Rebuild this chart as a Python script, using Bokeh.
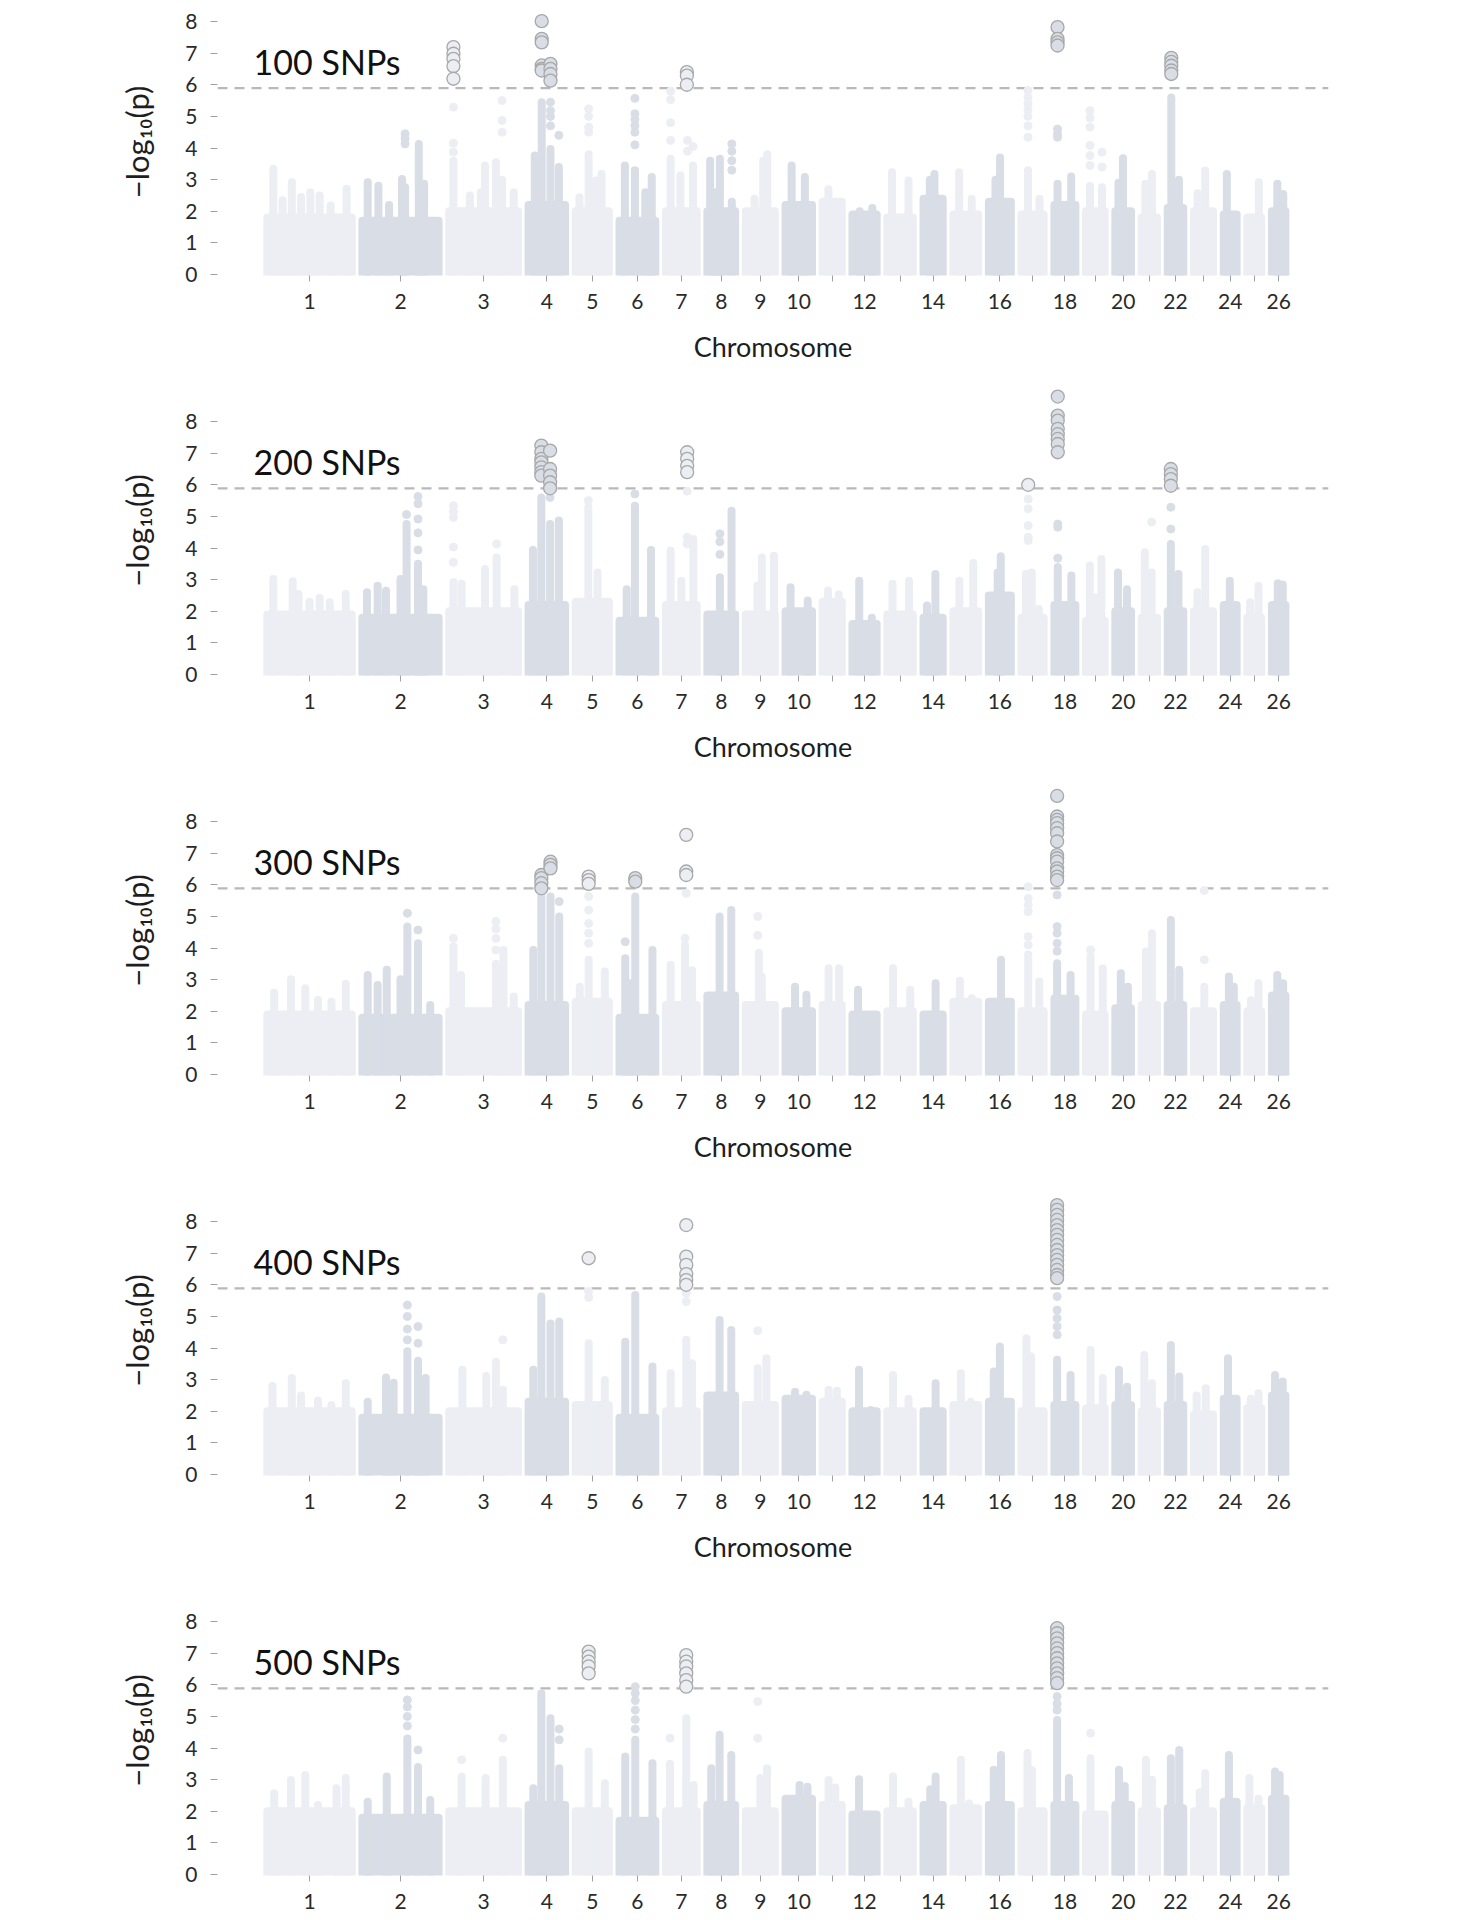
import numpy as np
from bokeh.plotting import figure
from bokeh.layouts import column
from bokeh.models import Range1d, FixedTicker, Span, Label, ColumnDataSource
from bokeh.embed import file_html
from bokeh.resources import INLINE

# sheep autosome lengths (Mb), chromosomes 1..26
chrom_len = [275.4, 249.0, 224.0, 119.2, 107.9, 117.0, 100.1, 90.7, 94.7, 86.4,
             62.2, 79.1, 83.1, 62.7, 80.9, 71.7, 72.3, 68.6, 60.5, 51.2,
             50.0, 50.8, 62.3, 42.0, 45.4, 44.1]
chrom_gap = 35.0
threshold = 5.89

tick_labels = [str(c) if (c <= 10 or c % 2 == 0) else "" for c in range(1, 27)]
panel_titles = ["100 SNPs", "200 SNPs", "300 SNPs", "400 SNPs", "500 SNPs"]

# top of the dense cloud of SNPs for each chromosome
base_100 = [1.8, 1.7, 2.0, 2.2, 2.0, 1.7, 2.0, 2.0, 2.0, 2.2, 2.3, 1.9, 1.8, 2.4, 1.9, 2.3,
            1.9, 2.2, 2.0, 2.0, 1.8, 2.1, 2.0, 1.9, 1.8, 2.0]
base_200 = [1.9, 1.8, 2.0, 2.2, 2.3, 1.7, 2.2, 1.9, 1.9, 2.0, 2.3, 1.6, 1.9, 1.8, 2.0, 2.5,
            1.8, 2.2, 1.7, 2.0, 1.8, 2.0, 2.0, 2.2, 1.8, 2.2]
base_300 = [1.9, 1.8, 2.0, 2.2, 2.3, 1.8, 2.2, 2.5, 2.2, 2.0, 2.2, 1.9, 2.0, 1.9, 2.3, 2.3,
            2.0, 2.4, 1.9, 2.1, 2.2, 2.2, 2.0, 2.2, 2.0, 2.5]
base_400 = [2.0, 1.8, 2.0, 2.3, 2.2, 1.8, 2.0, 2.5, 2.2, 2.4, 2.3, 2.0, 2.0, 2.0, 2.2, 2.3,
            2.0, 2.2, 2.1, 2.2, 2.0, 2.2, 1.9, 2.4, 2.1, 2.5]
base_500 = [2.0, 1.8, 2.0, 2.2, 2.0, 1.7, 2.0, 2.2, 2.0, 2.4, 2.2, 1.9, 2.0, 2.2, 2.1, 2.2,
            2.0, 2.2, 1.9, 2.2, 2.0, 2.1, 2.0, 2.3, 2.1, 2.4]

# (chromosome, relative position, -log10 p)  -- continuous columns of SNPs
spikes_100 = [(1, .07, 3.34), (1, .18, 2.35), (1, .29, 2.92), (1, .4, 2.45), (1, .51, 2.6), (1, .62, 2.5),
              (1, .75, 2.18), (1, .94, 2.71), (2, .07, 2.92), (2, .21, 2.81), (2, .35, 2.2), (2, .52, 3.02),
              (2, .56, 2.76), (2, .74, 4.13), (2, .81, 2.87), (3, .06, 3.6), (3, .3, 2.5), (3, .46, 2.6),
              (3, .52, 3.45), (3, .68, 3.55), (3, .77, 3.0), (3, .94, 2.6), (4, .17, 3.76), (4, .36, 5.45),
              (4, .6, 3.97), (4, .83, 3.4), (5, .11, 2.44), (5, .39, 3.8), (5, .61, 2.97), (5, .78, 3.18),
              (6, .15, 3.45), (6, .43, 3.3), (6, .72, 2.6), (6, .9, 3.08), (7, .15, 3.66), (7, .47, 3.13),
              (7, .88, 3.45), (8, .1, 3.6), (8, .3, 2.6), (8, .45, 3.66), (8, .88, 2.3), (9, .3, 2.4),
              (9, .6, 3.6), (9, .74, 3.8), (10, .23, 3.45), (10, .73, 3.08), (11, .3, 2.7), (12, .3, 2.0),
              (12, .82, 2.1), (13, .18, 3.23), (13, .83, 2.97), (14, .33, 3.0), (14, .57, 3.18),
              (15, .23, 3.23), (15, .74, 2.4), (16, .3, 3.0), (16, .51, 3.7), (17, .29, 3.3), (17, .81, 2.4),
              (18, .15, 2.87), (18, .8, 3.1), (19, .21, 2.8), (19, .86, 2.76), (20, .2, 2.9), (20, .49, 3.68),
              (21, .24, 2.87), (21, .67, 3.18), (22, .23, 5.6), (22, .72, 3.0), (23, .19, 2.57),
              (23, .59, 3.29), (24, .24, 3.18), (25, .83, 2.92), (26, .4, 2.87), (26, .84, 2.55)]
spikes_200 = [(1, .07, 3.02), (1, .3, 2.95), (1, .37, 2.55), (1, .5, 2.3), (1, .62, 2.42), (1, .74, 2.29),
              (1, .93, 2.55), (2, .06, 2.6), (2, .2, 2.81), (2, .31, 2.65), (2, .5, 3.02), (2, .58, 4.76),
              (2, .73, 3.5), (2, .8, 2.7), (3, .06, 2.92), (3, .18, 2.87), (3, .52, 3.34), (3, .69, 3.7),
              (3, .95, 2.7), (4, .12, 3.94), (4, .35, 5.6), (4, .59, 4.76), (4, .83, 4.87), (5, .38, 5.3),
              (5, .66, 3.23), (6, .2, 2.7), (6, .43, 5.34), (6, .88, 3.94), (7, .15, 3.92), (7, .5, 2.97),
              (7, .89, 4.29), (8, .45, 3.08), (8, .87, 5.18), (9, .4, 2.81), (9, .55, 3.7), (9, .97, 3.76),
              (10, .19, 2.76), (10, .84, 2.34), (11, .28, 2.66), (11, .84, 2.53), (12, .28, 2.97),
              (12, .8, 1.8), (13, .2, 2.87), (13, .85, 2.97), (14, .18, 2.18), (14, .62, 3.18),
              (15, .24, 2.97), (15, .8, 3.53), (16, .4, 3.23), (16, .54, 3.74), (17, .2, 3.18),
              (17, .46, 3.23), (17, .78, 2.07), (18, .16, 3.4), (18, .81, 3.13), (19, .2, 3.45),
              (19, .48, 2.44), (19, .82, 3.66), (20, .17, 3.23), (20, .74, 2.7), (21, .2, 3.87),
              (21, .65, 3.23), (22, .2, 4.13), (22, .69, 3.18), (23, .18, 2.6), (23, .59, 3.97),
              (24, .47, 2.97), (25, .2, 2.29), (25, .8, 2.81), (26, .43, 2.89), (26, .8, 2.85)]
spikes_300 = [(1, .08, 2.59), (1, .28, 3.01), (1, .45, 2.73), (1, .6, 2.36), (1, .76, 2.3), (1, .93, 2.87),
              (2, .07, 3.15), (2, .2, 2.83), (2, .32, 3.31), (2, .5, 3.01), (2, .59, 4.68), (2, .73, 4.15),
              (2, .89, 2.2), (3, .06, 4.05), (3, .17, 3.15), (3, .68, 3.5), (3, .79, 3.94), (3, .94, 2.47),
              (4, .13, 3.94), (4, .35, 5.68), (4, .6, 5.63), (4, .84, 5.0), (5, .12, 2.78), (5, .39, 3.63),
              (5, .88, 3.26), (6, .16, 3.68), (6, .28, 2.89), (6, .44, 5.63), (6, .92, 3.94), (7, .15, 3.47),
              (7, .62, 4.1), (7, .85, 3.3), (8, .44, 5.0), (8, .86, 5.2), (9, .45, 3.84), (9, .55, 3.1),
              (10, .36, 2.78), (10, .79, 2.52), (11, .31, 3.36), (11, .86, 3.36), (12, .23, 2.68),
              (12, .7, 1.83), (13, .22, 3.36), (13, .9, 2.68), (14, .63, 2.89), (15, .26, 2.97),
              (15, .74, 2.41), (16, .55, 3.63), (17, .3, 3.8), (17, .8, 2.94), (18, .13, 3.52),
              (18, .77, 3.15), (19, .24, 3.73), (19, .9, 3.36), (20, .35, 3.2), (20, .8, 2.78),
              (21, .27, 3.89), (21, .67, 4.47), (22, .2, 4.89), (22, .74, 3.31), (23, .54, 2.78),
              (24, .4, 3.1), (24, .78, 2.78), (25, .26, 2.35), (25, .8, 2.89), (26, .4, 3.15), (26, .83, 2.89)]
spikes_400 = [(1, .06, 2.8), (1, .29, 3.05), (1, .4, 2.5), (1, .6, 2.34), (1, .76, 2.2), (1, .93, 2.89),
              (2, .07, 2.3), (2, .31, 3.07), (2, .41, 2.9), (2, .59, 3.9), (2, .73, 3.6), (2, .83, 3.05),
              (3, .19, 3.31), (3, .54, 3.12), (3, .68, 3.57), (3, .78, 2.68), (4, .13, 3.31), (4, .35, 5.63),
              (4, .6, 4.78), (4, .84, 4.84), (5, .39, 4.15), (5, .88, 2.99), (6, .16, 4.2), (6, .44, 5.68),
              (6, .92, 3.42), (7, .15, 3.2), (7, .66, 4.26), (7, .85, 3.52), (8, .44, 4.89), (8, .86, 4.57),
              (9, .41, 3.36), (9, .71, 3.68), (10, .36, 2.62), (10, .79, 2.52), (11, .31, 2.68),
              (11, .74, 2.65), (12, .27, 3.31), (12, .75, 2.04), (13, .22, 3.15), (13, .83, 2.4),
              (14, .63, 2.89), (15, .3, 3.2), (15, .7, 2.3), (16, .22, 3.26), (16, .5, 4.05), (17, .22, 4.31),
              (17, .43, 3.73), (18, .13, 3.63), (18, .77, 3.15), (19, .24, 3.94), (19, .9, 3.05),
              (20, .23, 3.31), (20, .75, 2.78), (21, .17, 3.78), (21, .67, 2.89), (22, .2, 4.1),
              (22, .74, 3.1), (23, .14, 2.5), (23, .62, 2.73), (24, .33, 3.68), (25, .25, 2.4),
              (25, .8, 2.57), (26, .23, 3.15), (26, .8, 2.94)]
spikes_500 = [(1, .08, 2.57), (1, .28, 2.99), (1, .45, 3.15), (1, .6, 2.2), (1, .82, 2.73), (1, .93, 3.05),
              (2, .07, 2.3), (2, .32, 3.1), (2, .59, 4.3), (2, .73, 3.4), (2, .89, 2.36), (3, .18, 3.1),
              (3, .53, 3.05), (3, .78, 3.63), (4, .13, 2.73), (4, .35, 5.73), (4, .6, 4.94), (4, .84, 3.36),
              (5, .39, 3.89), (5, .88, 2.89), (6, .16, 3.73), (6, .44, 4.26), (6, .92, 3.52), (7, .13, 3.5),
              (7, .66, 4.94), (7, .9, 2.83), (8, .14, 3.36), (8, .44, 4.42), (8, .86, 3.78), (9, .5, 3.05),
              (9, .73, 3.36), (10, .53, 2.83), (10, .83, 2.78), (11, .31, 2.99), (11, .66, 2.75),
              (12, .27, 3.01), (12, .75, 1.89), (13, .22, 3.1), (13, .83, 2.3), (14, .35, 2.7),
              (14, .63, 3.1), (15, .3, 3.63), (15, .63, 2.25), (16, .22, 3.31), (16, .55, 3.78),
              (17, .27, 3.84), (17, .47, 3.3), (18, .13, 4.89), (18, .69, 3.05), (19, .24, 3.68),
              (20, .23, 3.31), (20, .6, 2.8), (21, .27, 3.63), (21, .67, 3.0), (22, .2, 3.68),
              (22, .74, 3.94), (23, .3, 2.6), (23, .59, 3.2), (24, .4, 3.78), (25, .15, 3.05),
              (25, .8, 2.4), (26, .23, 3.26), (26, .57, 3.15)]

# single SNPs standing apart from the cloud
dots_100 = [(2, .56, 4.45), (2, .56, 4.3), (2, .56, 4.13), (3, .06, 5.29), (3, .06, 4.15), (3, .06, 3.87),
            (3, .77, 5.5), (3, .77, 4.87), (3, .77, 4.5), (4, .6, 5.45), (4, .6, 5.18), (4, .6, 5.0),
            (4, .6, 4.7), (4, .83, 4.4), (5, .39, 5.24), (5, .39, 5.0), (5, .39, 4.66), (5, .39, 4.5),
            (6, .43, 5.57), (6, .43, 5.08), (6, .43, 4.9), (6, .43, 4.7), (6, .43, 4.5), (6, .43, 4.1),
            (7, .15, 5.8), (7, .15, 5.53), (7, .15, 4.8), (7, .15, 4.24), (7, .7, 4.24), (7, .7, 3.9),
            (7, .88, 4.05), (8, .88, 4.13), (8, .88, 3.9), (8, .88, 3.6), (8, .88, 3.3), (17, .29, 5.82),
            (17, .29, 5.6), (17, .29, 5.4), (17, .29, 5.2), (17, .29, 5.0), (17, .29, 4.7), (17, .29, 4.34),
            (18, .15, 4.6), (18, .15, 4.45), (18, .15, 4.34), (19, .21, 5.18), (19, .21, 4.95),
            (19, .21, 4.66), (19, .21, 4.08), (19, .21, 3.76), (19, .21, 3.45), (19, .86, 3.87),
            (19, .86, 3.4)]
dots_200 = [(2, .58, 5.06), (2, .73, 5.63), (2, .73, 5.4), (2, .73, 4.92), (2, .73, 4.48), (2, .73, 3.94),
            (3, .06, 5.34), (3, .06, 5.15), (3, .06, 4.97), (3, .06, 4.03), (3, .06, 3.55), (3, .69, 4.13),
            (4, .59, 5.6), (5, .38, 5.5), (6, .43, 5.71), (7, .69, 5.8), (7, .69, 4.34), (7, .69, 4.13),
            (8, .45, 4.45), (8, .45, 4.2), (8, .45, 3.8), (17, .3, 5.55), (17, .3, 5.24), (17, .3, 4.71),
            (17, .3, 4.34), (17, .3, 4.24), (18, .16, 4.76), (18, .16, 4.66), (18, .16, 3.68),
            (21, .65, 4.82), (22, .2, 5.29), (22, .2, 4.6)]
dots_300 = [(2, .59, 5.1), (2, .73, 4.57), (3, .06, 4.31), (3, .68, 4.84), (3, .68, 4.6), (3, .68, 4.3),
            (3, .68, 3.94), (4, .84, 5.47), (5, .39, 5.63), (5, .39, 5.2), (5, .39, 4.78), (5, .39, 4.47),
            (5, .39, 4.15), (6, .16, 4.2), (7, .62, 4.31), (7, .66, 5.73), (9, .41, 5.0), (9, .41, 4.4),
            (17, .3, 5.94), (17, .3, 5.57), (17, .3, 5.35), (17, .3, 5.15), (17, .3, 4.36), (17, .3, 4.1),
            (18, .13, 5.68), (18, .13, 4.68), (18, .13, 4.47), (18, .13, 4.15), (18, .13, 3.9),
            (19, .24, 3.94), (23, .54, 3.63), (23, .54, 5.82)]
dots_400 = [(2, .59, 5.36), (2, .59, 5.0), (2, .59, 4.6), (2, .59, 4.26), (2, .73, 4.68), (2, .73, 4.15),
            (3, .78, 4.26), (5, .39, 5.79), (5, .39, 5.6), (7, .66, 5.73), (7, .66, 5.47), (9, .41, 4.55),
            (18, .13, 5.63), (18, .13, 5.2), (18, .13, 4.94), (18, .13, 4.68), (18, .13, 4.42)]
dots_500 = [(2, .59, 5.52), (2, .59, 5.3), (2, .59, 5.0), (2, .59, 4.7), (2, .73, 3.94), (3, .18, 3.63),
            (3, .78, 4.31), (4, .84, 4.6), (4, .84, 4.26), (6, .44, 5.94), (6, .44, 5.73), (6, .44, 5.5),
            (6, .44, 5.2), (6, .44, 4.9), (6, .44, 4.6), (7, .13, 4.31), (9, .41, 5.47), (9, .41, 4.31),
            (18, .13, 5.63), (18, .13, 5.4), (18, .13, 5.2), (19, .24, 4.47)]

# SNPs above the significance threshold
hits_100 = [(3, .06, 7.19), (3, .06, 6.98), (3, .06, 6.82), (3, .06, 6.59), (3, .06, 6.19),
            (4, .36, 8.01), (4, .36, 7.45), (4, .36, 7.34), (4, .36, 6.61), (4, .36, 6.5), (4, .36, 6.45),
            (4, .6, 6.66), (4, .6, 6.5), (4, .6, 6.34), (4, .6, 6.13), (7, .68, 6.4), (7, .68, 6.29),
            (7, .68, 6.0), (18, .15, 7.82), (18, .15, 7.45), (18, .15, 7.34), (18, .15, 7.24),
            (22, .23, 6.85), (22, .23, 6.72), (22, .23, 6.6), (22, .23, 6.45), (22, .23, 6.34)]
hits_200 = [(4, .35, 7.24), (4, .35, 7.03), (4, .35, 6.82), (4, .35, 6.71), (4, .35, 6.55), (4, .35, 6.4),
            (4, .35, 6.29), (4, .59, 7.08), (4, .59, 6.5), (4, .59, 6.29), (4, .59, 6.08), (4, .59, 5.89),
            (7, .69, 7.03), (7, .69, 6.82), (7, .69, 6.6), (7, .69, 6.4), (17, .3, 6.0),
            (18, .16, 8.79), (18, .16, 8.19), (18, .16, 8.03), (18, .16, 7.77), (18, .16, 7.6),
            (18, .16, 7.45), (18, .16, 7.29), (18, .16, 7.03), (22, .2, 6.5), (22, .2, 6.34),
            (22, .2, 6.18), (22, .2, 5.97)]
hits_300 = [(4, .35, 6.31), (4, .35, 6.21), (4, .35, 6.05), (4, .35, 5.89), (4, .6, 6.73), (4, .6, 6.63),
            (4, .6, 6.52), (5, .39, 6.26), (5, .39, 6.15), (5, .39, 6.03), (6, .44, 6.21), (6, .44, 6.1),
            (7, .66, 7.58), (7, .66, 6.42), (7, .66, 6.31), (18, .13, 8.81), (18, .13, 8.16),
            (18, .13, 8.05), (18, .13, 7.95), (18, .13, 7.79), (18, .13, 7.63), (18, .13, 7.37),
            (18, .13, 6.94), (18, .13, 6.84), (18, .13, 6.73), (18, .13, 6.52), (18, .13, 6.42),
            (18, .13, 6.26), (18, .13, 6.15)]
hits_400 = [(5, .39, 6.84), (7, .66, 7.89), (7, .66, 6.89), (7, .66, 6.63), (7, .66, 6.34), (7, .66, 6.15),
            (7, .66, 6.0), (18, .13, 8.52), (18, .13, 8.37), (18, .13, 8.21), (18, .13, 8.05),
            (18, .13, 7.89), (18, .13, 7.73), (18, .13, 7.58), (18, .13, 7.42), (18, .13, 7.26),
            (18, .13, 7.1), (18, .13, 6.94), (18, .13, 6.79), (18, .13, 6.63), (18, .13, 6.47),
            (18, .13, 6.31), (18, .13, 6.21)]
hits_500 = [(5, .39, 7.05), (5, .39, 6.89), (5, .39, 6.73), (5, .39, 6.58), (5, .39, 6.36),
            (7, .66, 6.94), (7, .66, 6.73), (7, .66, 6.58), (7, .66, 6.36), (7, .66, 6.15), (7, .66, 5.94),
            (18, .13, 7.79), (18, .13, 7.63), (18, .13, 7.47), (18, .13, 7.31), (18, .13, 7.15),
            (18, .13, 7.0), (18, .13, 6.84), (18, .13, 6.68), (18, .13, 6.52), (18, .13, 6.36),
            (18, .13, 6.21), (18, .13, 6.05)]

LIGHT = "#ECEEF3"
DARK = "#D8DDE6"
FONT = "Lato"

starts = np.concatenate([[0.0], np.cumsum(np.array(chrom_len) + chrom_gap)[:-1]])
ends = starts + np.array(chrom_len)
centers = (starts + ends) / 2
chrom_colors = [LIGHT if c % 2 == 1 else DARK for c in range(1, 27)]


def expand(rows):
    xs = [starts[c - 1] + f * chrom_len[c - 1] for c, f, v in rows]
    ys = [v for c, f, v in rows]
    cols = [chrom_colors[c - 1] for c, f, v in rows]
    return dict(x=xs, y=ys, color=cols)


def manhattan(title, base, spikes, dots, hits, first=False, last=False):
    height = 385 if first else (335 if last else 400)
    top = 8.41 if first else 9.14
    p = figure(width=1368, height=height, output_backend="svg", toolbar_location=None,
               x_range=Range1d(-163, 3467), y_range=Range1d(-0.03, top),
               min_border_left=217, min_border_right=40, min_border_top=8 if first else 0,
               min_border_bottom=45 if last else 110)
    p.outline_line_color = None
    p.grid.visible = False

    p.add_layout(Span(location=threshold, dimension="width", line_color="#B9B9B9",
                      line_dash="10 7", line_width=2.3, level="underlay"))

    # dense cloud of non-significant SNPs per chromosome
    p.quad(left=starts, right=ends, bottom=0, top=base, fill_color=chrom_colors,
           line_color=chrom_colors, line_width=8, line_join="round")

    s = expand(spikes)
    p.segment(x0="x", y0=0, x1="x", y1="y", source=ColumnDataSource(s),
              line_color="color", line_width=8, line_cap="round")

    d = expand(dots)
    p.scatter("x", "y", source=ColumnDataSource(d), size=8, color="color")

    h = expand(hits)
    p.scatter("x", "y", source=ColumnDataSource(h), size=13, fill_color="color",
              line_color="#A8A8A8", line_width=1.3)

    p.add_layout(Label(x=-45, y=6.75, text=title, text_font=FONT, text_font_size="34px",
                       text_color="#111111", text_baseline="middle"))

    p.yaxis.ticker = FixedTicker(ticks=list(range(9)))
    p.yaxis.axis_label = "\u2212log\u2081\u2080(p)"
    p.yaxis.axis_label_standoff = 26
    p.yaxis.major_label_standoff = 13
    p.yaxis.major_tick_out = 7

    p.xaxis.ticker = FixedTicker(ticks=list(centers))
    p.xaxis.major_label_overrides = {float(c): t for c, t in zip(centers, tick_labels)}
    p.xaxis.major_label_standoff = 12
    p.xaxis.major_tick_out = 6
    p.xaxis.axis_label = None if last else "Chromosome"
    p.xaxis.axis_label_standoff = 18

    for ax in (p.xaxis, p.yaxis):
        ax.axis_line_color = None
        ax.major_tick_in = 0
        ax.major_tick_line_color = "#A0A0A0"
        ax.minor_tick_line_color = None
        ax.major_label_text_font = FONT
        ax.major_label_text_font_size = "21px"
        ax.major_label_text_color = "#2A2A2A"
        ax.axis_label_text_font = FONT
        ax.axis_label_text_font_style = "normal"
        ax.axis_label_text_color = "#1E1E1E"
    p.xaxis.axis_label_text_font_size = "27px"
    p.yaxis.axis_label_text_font_size = "31px"
    return p


bases = [base_100, base_200, base_300, base_400, base_500]
spike_sets = [spikes_100, spikes_200, spikes_300, spikes_400, spikes_500]
dot_sets = [dots_100, dots_200, dots_300, dots_400, dots_500]
hit_sets = [hits_100, hits_200, hits_300, hits_400, hits_500]

panels = [manhattan(panel_titles[i], bases[i], spike_sets[i], dot_sets[i], hit_sets[i],
                    first=(i == 0), last=(i == 4)) for i in range(5)]

layout = column(*panels, spacing=0)
open("out.html", "w").write(file_html(layout, INLINE))
